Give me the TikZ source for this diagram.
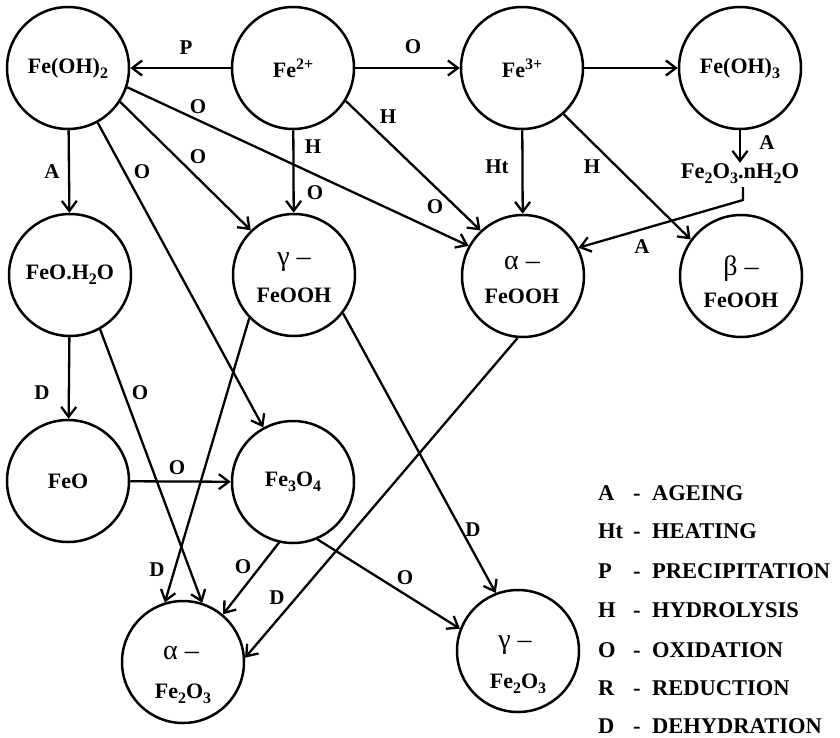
\documentclass[tikz,border=0pt]{standalone}
\usepackage{fontspec}
\setmainfont{Liberation Serif}
\usetikzlibrary{arrows.meta}
\newcommand{\mysub}[1]{\raisebox{-5pt}{\fontsize{16}{16}\selectfont #1}}
\newcommand{\mysup}[1]{\raisebox{8pt}{\fontsize{16}{16}\selectfont #1}}
\begin{document}
\begin{tikzpicture}[x=1pt,y=-1pt,
  st/.style={circle,draw,line width=2.5pt,minimum size=122pt,inner sep=0pt,align=center,
    font=\fontsize{22}{26}\selectfont\bfseries},
  txt/.style={anchor=base,inner sep=0pt,font=\fontsize{22}{26}\selectfont\bfseries},
  gk/.style={anchor=base,inner sep=0pt,font=\fontsize{28}{30}\selectfont},
  lbl/.style={font=\fontsize{21}{24}\selectfont\bfseries,inner sep=0pt},
  leg/.style={anchor=base west,inner sep=0pt,font=\fontsize{22.5}{26}\selectfont\bfseries},
  arr/.style={line width=2.3pt,-{Straight Barb[length=10pt,width=15pt]}},
]
\useasboundingbox (0,0) rectangle (840,737);
% states
\node[st] (feoh2) at (68,68) {Fe(OH)\mysub{2}};
\node[st] (fe2) at (293,68) {Fe\mysup{2+}};
\node[st] (fe3) at (522,68) {Fe\mysup{3+}};
\node[st] (feoh3) at (740,68) {Fe(OH)\mysub{3}};
\node[inner sep=1pt,font=\fontsize{22.5}{26}\selectfont\bfseries] (nh2o) at (740,174)
  {Fe\mysub{2}O\mysub{3}.nH\mysub{2}O};
\node[st] (feoh2o) at (70,275) {FeO.H\mysub{2}O};
\node[st] (gfeooh) at (294,275) {};
\node[st] (afeooh) at (523,276) {};
\node[st] (bfeooh) at (741,276) {};
\node[st] (feo) at (68,481) {FeO};
\node[st] (fe3o4) at (293,482) {Fe\mysub{3}O\mysub{4}};
\node[st] (afe2o3) at (183,662) {};
\node[st] (gfe2o3) at (518,651) {};
% two-line texts
\node[gk] (gfeooh-g) at (294,265) {γ –};
\node[txt] (gfeooh-t) at (294,302) {FeOOH};
\node[gk] (afeooh-g) at (522,269) {α –};
\node[txt] (afeooh-t) at (522,303) {FeOOH};
\node[gk] (bfeooh-g) at (741,275) {β –};
\node[txt] (bfeooh-t) at (741,307) {FeOOH};
\node[gk] (afe2o3-g) at (181,659) {α –};
\node[txt] (afe2o3-t) at (183,698) {Fe\mysub{2}O\mysub{3}};
\node[gk] (gfe2o3-g) at (515,648) {γ –};
\node[txt] (gfe2o3-t) at (518,688) {Fe\mysub{2}O\mysub{3}};
\coordinate (nstart) at (743,187);
\coordinate (nbend) at (743,200);
% connectors
\draw[arr] (fe2) -- (feoh2);
\draw[arr] (fe2) -- (fe3);
\draw[arr] (fe3) -- (feoh3);
\draw[arr] (feoh3.south) -- (nh2o.north);
\draw[arr] (nstart) -- (nbend) -- (afeooh.27);
\draw[arr] (feoh2) -- (feoh2o);
\draw[arr] (feoh2) -- (fe3o4);
\draw[arr] (feoh2.-33) -- (gfeooh.134);
\draw[arr] (feoh2.-18) -- (afeooh.151);
\draw[arr] (fe2) -- (gfeooh);
\draw[arr] (fe2.-32) -- (afeooh.133);
\draw[arr] (fe3) -- (afeooh);
\draw[arr] (fe3.-48) -- (bfeooh.144);
\draw[arr] (feoh2o) -- (feo);
\draw[arr] (feoh2o.-61) -- (afe2o3.72);
\draw[arr] (feo) -- (fe3o4);
\draw[arr] (gfeooh.-136) -- (afe2o3.107);
\draw[arr] (gfeooh.-38) -- (gfe2o3.111);
\draw[arr] (fe3o4.-103) -- (afe2o3.50);
\draw[arr] (fe3o4.-67) -- (gfe2o3.159);
\draw[arr] (afeooh.-95) -- (afe2o3.4);
% labels
\node[lbl] (l1) at (186,48) {P};
\node[lbl] (l2) at (413,47) {O};
\node[lbl] (l3) at (198,107) {O};
\node[lbl] (l4) at (388,117) {H};
\node[lbl] (l5) at (52,172) {A};
\node[lbl] (l6) at (142,172) {O};
\node[lbl] (l7) at (198,157) {O};
\node[lbl] (l8) at (313,147) {H};
\node[lbl] (l9) at (315,193) {O};
\node[lbl] (l10) at (497,167) {Ht};
\node[lbl] (l11) at (592,167) {H};
\node[lbl] (l12) at (435,207) {O};
\node[lbl] (l13) at (767,143) {A};
\node[lbl] (l14) at (642,247) {A};
\node[lbl] (l15) at (42,393) {D};
\node[lbl] (l16) at (140,393) {O};
\node[lbl] (l17) at (177,468) {O};
\node[lbl] (l18) at (157,570) {D};
\node[lbl] (l19) at (243,567) {O};
\node[lbl] (l20) at (277,598) {D};
\node[lbl] (l21) at (405,578) {O};
\node[lbl] (l22) at (473,530) {D};
% legend
\node[leg] (k1) at (598,500) {\makebox[35pt][l]{A}\makebox[19pt][l]{-}AGEING};
\node[leg] (k2) at (598,538) {\makebox[35pt][l]{Ht}\makebox[19pt][l]{-}HEATING};
\node[leg] (k3) at (598,578) {\makebox[35pt][l]{P}\makebox[19pt][l]{-}PRECIPITATION};
\node[leg] (k4) at (598,617) {\makebox[35pt][l]{H}\makebox[19pt][l]{-}HYDROLYSIS};
\node[leg] (k5) at (598,657) {\makebox[35pt][l]{O}\makebox[19pt][l]{-}OXIDATION};
\node[leg] (k6) at (598,695) {\makebox[35pt][l]{R}\makebox[19pt][l]{-}REDUCTION};
\node[leg] (k7) at (598,733) {\makebox[35pt][l]{D}\makebox[19pt][l]{-}DEHYDRATION};
\end{tikzpicture}
\end{document}
